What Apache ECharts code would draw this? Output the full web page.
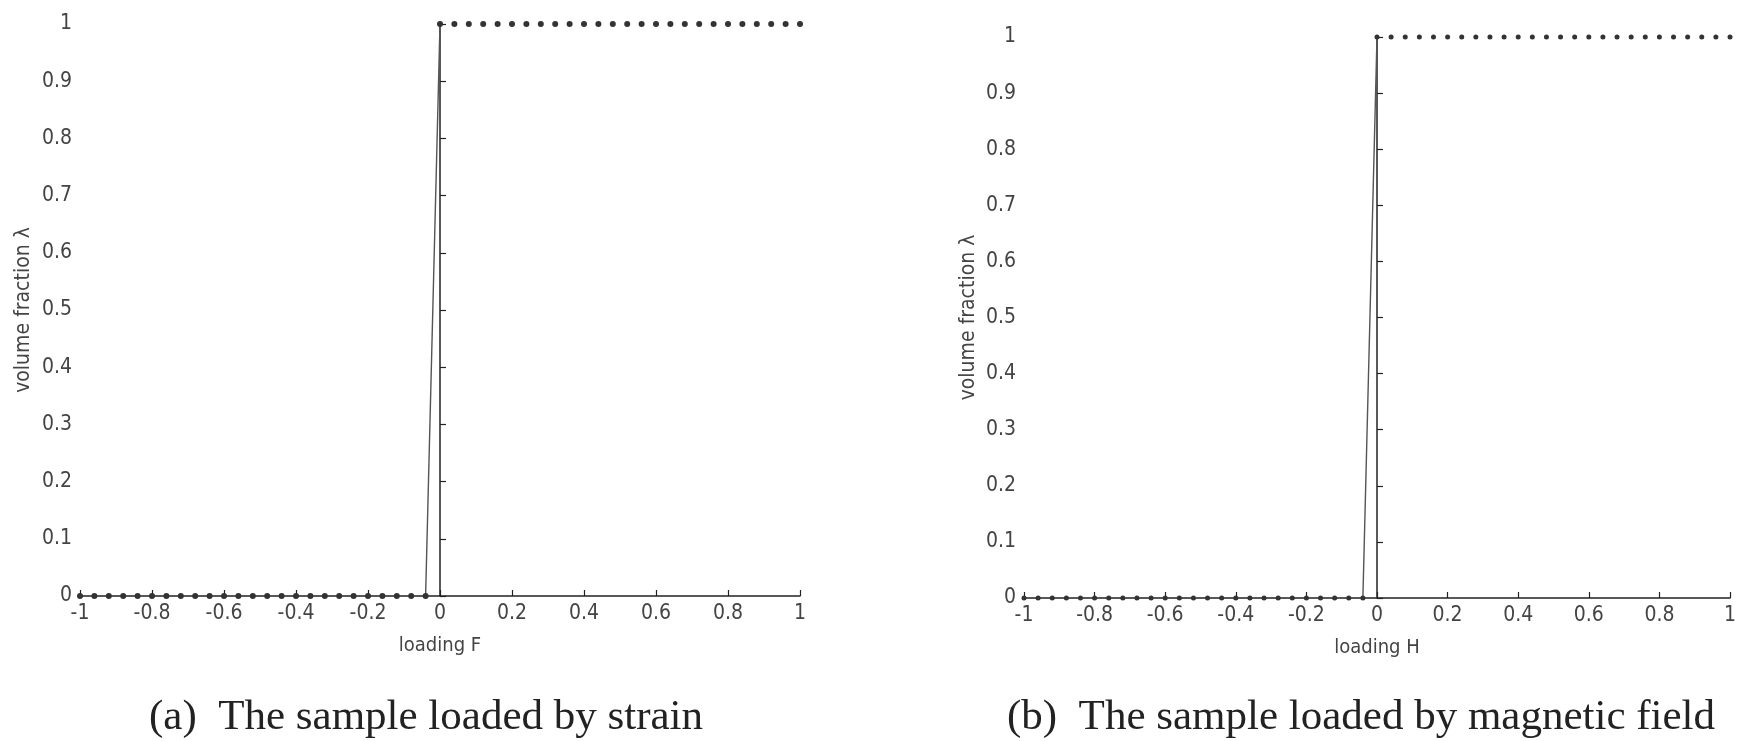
<!DOCTYPE html>
<html>
<head>
<meta charset="utf-8">
<title>volume fraction</title>
<script src="https://cdn.jsdelivr.net/npm/echarts@6/dist/echarts.min.js"></script>
<style>
  html, body { margin: 0; padding: 0; background: #fff; }
  #main { width: 1745px; height: 741px; }
</style>
</head>
<body>
<div id="main"></div>
<script>
// loading values (same grid of points for both panels)
var loading = [-1, -0.96, -0.92, -0.88, -0.84, -0.8, -0.76, -0.72, -0.68, -0.64,
  -0.6, -0.56, -0.52, -0.48, -0.44, -0.4, -0.36, -0.32, -0.28, -0.24,
  -0.2, -0.16, -0.12, -0.08, -0.04,
  0, 0.04, 0.08, 0.12, 0.16, 0.2, 0.24, 0.28, 0.32, 0.36,
  0.4, 0.44, 0.48, 0.52, 0.56, 0.6, 0.64, 0.68, 0.72, 0.76,
  0.8, 0.84, 0.88, 0.92, 0.96, 1];

// volume fraction lambda, (a) loaded by strain
var fracStrain = [0, 0, 0, 0, 0, 0, 0, 0, 0, 0,
  0, 0, 0, 0, 0, 0, 0, 0, 0, 0,
  0, 0, 0, 0, 0,
  1, 1, 1, 1, 1, 1, 1, 1, 1, 1,
  1, 1, 1, 1, 1, 1, 1, 1, 1, 1,
  1, 1, 1, 1, 1, 1];

// volume fraction lambda, (b) loaded by magnetic field
var fracField = [0, 0, 0, 0, 0, 0, 0, 0, 0, 0,
  0, 0, 0, 0, 0, 0, 0, 0, 0, 0,
  0, 0, 0, 0, 0,
  1, 1, 1, 1, 1, 1, 1, 1, 1, 1,
  1, 1, 1, 1, 1, 1, 1, 1, 1, 1,
  1, 1, 1, 1, 1, 1];

// the solid line is only drawn across the jump (last 0 -> first 1)
var jumpFrom = 24, jumpTo = 26;

var captions = ['(a)  The sample loaded by strain', '(b)  The sample loaded by magnetic field'];
var xNames = ['loading F', 'loading H'];
var yName = 'volume fraction \u03bb';

var tickFont = 'Liberation Sans Narrow, DejaVu Sans Condensed, Liberation Sans, sans-serif';

function pairs(xs, ys) {
  var out = [];
  for (var i = 0; i < xs.length; i++) out.push([xs[i], ys[i]]);
  return out;
}

function xAxisOf(idx) {
  return {
    gridIndex: idx, type: 'value', min: -1, max: 1, interval: 0.2,
    name: xNames[idx], nameLocation: 'middle', nameGap: 40,
    nameTextStyle: { fontFamily: tickFont, fontSize: 20, color: '#444' },
    axisLine: { show: true, onZero: false, lineStyle: { color: '#222', width: 1.5 } },
    axisTick: { show: true, inside: true, length: 6, lineStyle: { color: '#222', width: 1.2 } },
    axisLabel: { fontFamily: tickFont, fontSize: 21, color: '#444', margin: 7 },
    splitLine: { show: false }
  };
}

function yAxisOf(idx, gap) {
  return {
    gridIndex: idx, type: 'value', min: 0, max: 1, interval: 0.1,
    name: yName, nameLocation: 'middle', nameGap: gap,
    nameTextStyle: { fontFamily: tickFont, fontSize: 21, color: '#444' },
    axisLine: { show: true, lineStyle: { color: '#222', width: 1.5 } },
    axisTick: { show: true, inside: true, length: 6, lineStyle: { color: '#222', width: 1.2 } },
    axisLabel: { fontFamily: tickFont, fontSize: 21, color: '#444', margin: 8 },
    splitLine: { show: false }
  };
}

function dotsOf(idx, ys, size) {
  return {
    type: 'scatter', xAxisIndex: idx, yAxisIndex: idx,
    data: pairs(loading, ys),
    symbol: 'circle', symbolSize: size,
    itemStyle: { color: '#333', opacity: 1 },
    z: 3
  };
}

function jumpOf(idx, ys) {
  return {
    type: 'line', xAxisIndex: idx, yAxisIndex: idx,
    data: pairs(loading.slice(jumpFrom, jumpTo), ys.slice(jumpFrom, jumpTo)),
    symbol: 'none',
    lineStyle: { color: '#555', width: 1.4 },
    z: 2
  };
}

var myChart = echarts.init(document.getElementById('main'));
var option = {
  backgroundColor: '#fff',
  animation: false,
  title: [
    { text: captions[0], left: 421, top: 691, textAlign: 'center',
      textStyle: { fontFamily: 'Liberation Serif, serif', fontSize: 43, fontWeight: 'normal', color: '#222' } },
    { text: captions[1], left: 1356, top: 691, textAlign: 'center',
      textStyle: { fontFamily: 'Liberation Serif, serif', fontSize: 43, fontWeight: 'normal', color: '#222' } }
  ],
  grid: [
    { left: 80, right: 945, top: 24, bottom: 145 },
    { left: 1024, right: 15, top: 37, bottom: 143 }
  ],
  xAxis: [xAxisOf(0), xAxisOf(1)],
  yAxis: [yAxisOf(0, 46), yAxisOf(1, 45)],
  series: [
    dotsOf(0, fracStrain, 6), jumpOf(0, fracStrain),
    dotsOf(1, fracField, 5), jumpOf(1, fracField)
  ]
};
myChart.setOption(option);
</script>
</body>
</html>
